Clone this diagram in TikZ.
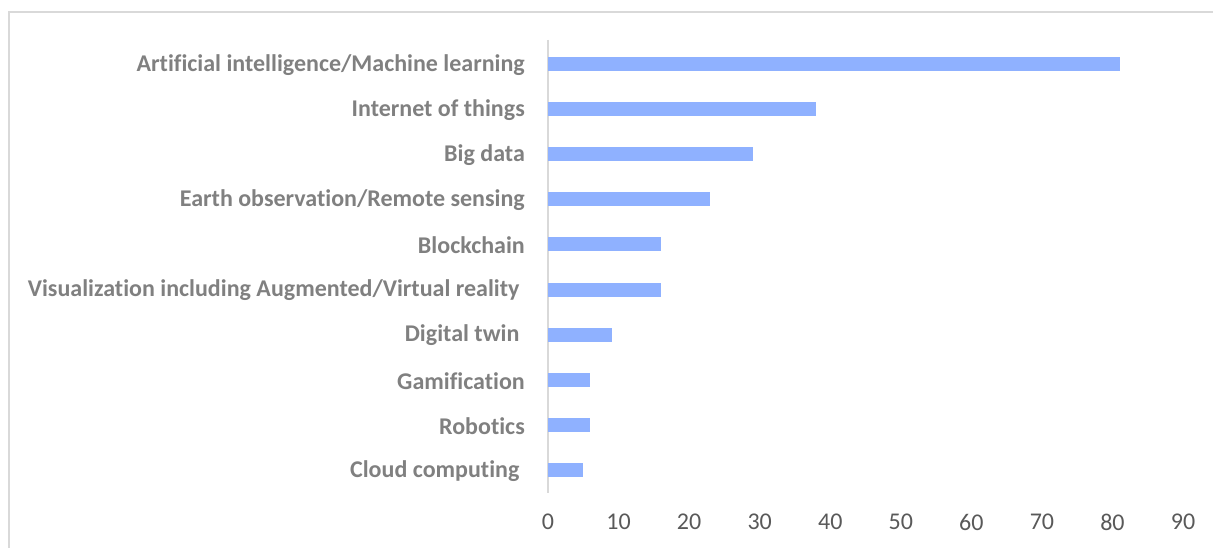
\documentclass[tikz,border=0pt]{standalone}
\usepackage{fontspec}
\setmainfont[Ligatures=NoCommon]{Carlito}
\usepackage{tikz}
\definecolor{barblue}{RGB}{143,177,255}
\definecolor{framegray}{RGB}{217,217,217}
\definecolor{labelgray}{RGB}{128,128,128}
\definecolor{tickgray}{RGB}{89,89,89}
\tikzset{
	bar/.style={fill=barblue},
	gridline/.style={framegray, line width=1.5pt},
	catlabel/.style={anchor=east, inner sep=0pt, text=labelgray, font=\fontsize{24}{28}\selectfont\bfseries},
	ticklabel/.style={inner sep=0pt, text=tickgray, font=\fontsize{24}{28}\selectfont},
}

\begin{document}
\begin{tikzpicture}[x=1pt,y=-1pt]
	\useasboundingbox (0,0) rectangle (1213,548);
	% chart frame
	\draw[gridline] (9,548) -- (9,12) -- (1213,12);
	% category axis
	\coordinate (axtop) at (548,40);
	\coordinate (axbot) at (548,493);
	\draw[gridline] (axtop) -- (axbot);
	\pgfmathsetmacro{\unit}{7.056}   % px per count
	\foreach \v/\txt [count=\i] in {
		81/{Artificial intelligence/Machine learning},
		38/{Internet of things},
		29/{Big data},
		23/{Earth observation/Remote sensing},
		16/{Blockchain},
		16/{Visualization including Augmented/Virtual reality\ \null},
		9/{Digital twin\ \null},
		6/{Gamification},
		6/{Robotics},
		5/{Cloud computing\ \null}}
	{
		\pgfmathsetmacro{\yc}{64+(\i-1)*45.1}
		\fill[bar] (548,\yc-7) rectangle ({548+\v*\unit},\yc+7);
		\node[catlabel] (lab\i) at (525,\yc+1) {\txt};
	}
	% value axis labels
	\foreach \t in {0,10,...,90}
		\node[ticklabel] (tick\t) at ({548+\t*\unit},522) {\t};
\end{tikzpicture}
\end{document}
